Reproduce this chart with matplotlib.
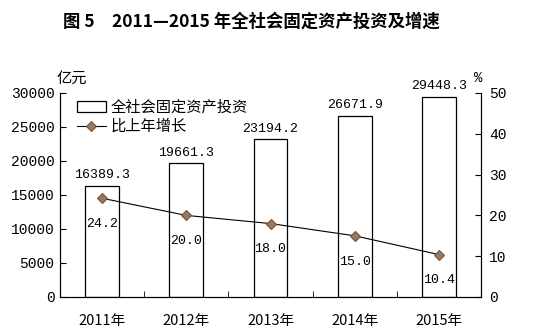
#!/usr/bin/env python3

import matplotlib
matplotlib.use("Agg")
import matplotlib.pyplot as plt
import numpy as np

plt.rcParams['font.family'] = ['Noto Sans CJK SC', 'DejaVu Sans']
MONO = ["Liberation Mono", "DejaVu Sans"]

years = ["2011年", "2012年", "2013年", "2014年", "2015年"]
invest = [16389.3, 19661.3, 23194.2, 26671.9, 29448.3]
growth = [24.2, 20.0, 18.0, 15.0, 10.4]

fig = plt.figure(figsize=(5.55, 3.32), dpi=100)
ax = fig.add_axes([60 / 555, 1 - 297 / 332, (481 - 60) / 555, (297 - 93) / 332])
x = np.arange(len(years))

ax.bar(x, invest, width=0.4, color="white", edgecolor="black", linewidth=0.9,
       label="全社会固定资产投资", zorder=2)
for xi, v in zip(x, invest):
    ax.text(xi, v + 650, f"{v:.1f}", ha="center", va="bottom", fontsize=9.5,
            family=MONO)
ax.set_ylim(0, 30000)
ax.set_xlim(-0.5, len(years) - 0.5)
ax.set_yticks(range(0, 30001, 5000))
ax.set_xticks(x)
ax.set_xticklabels(years, fontsize=10.5)
ax.set_xticks(np.arange(0.5, len(years) - 1, 1), minor=True)
ax.tick_params(axis="x", which="major", length=0, pad=12)
ax.tick_params(axis="x", which="minor", direction="in", length=4)
ax.tick_params(axis="y", direction="in", length=4, labelsize=10.5, pad=4)
ax.spines["top"].set_visible(False)

ax2 = ax.twinx()
ax2.plot(x, growth, color="black", linewidth=0.8, marker="D", markersize=5,
         markerfacecolor="#7f7f7f", markeredgecolor="#9c4a12",
         markeredgewidth=0.8, label="比上年增长", zorder=3)
for xi, g in zip(x, growth):
    ax2.text(xi, g - 6.3, f"{g:.1f}", ha="center", va="center", fontsize=9.5,
             family=MONO)
ax2.set_ylim(0, 50)
ax2.set_yticks(range(0, 51, 10))
ax2.tick_params(axis="y", direction="in", length=4, labelsize=10.5, pad=6)
ax2.spines["top"].set_visible(False)

for lab in ax.get_yticklabels() + ax2.get_yticklabels():
    lab.set_family(MONO)

h1, l1 = ax.get_legend_handles_labels()
h2, l2 = ax2.get_legend_handles_labels()
ax.legend(h1 + h2, l1 + l2, loc="upper left", bbox_to_anchor=(0.025, 1.0),
          frameon=False, fontsize=11, handlelength=1.9, labelspacing=0.12,
          handletextpad=0.35, borderaxespad=0.2, borderpad=0.2)

fig.text(72 / 555, 1 - 78 / 332, "亿元", fontsize=11, ha="center", va="center")
fig.text(478 / 555, 1 - 78 / 332, "%", fontsize=10, ha="center", va="center",
         family=MONO)
fig.text(251 / 555, 1 - 22 / 332, "图 5　2011—2015 年全社会固定资产投资及增速",
         fontsize=12.5, fontweight="bold", ha="center", va="center")

fig.savefig("out.png", dpi=100)
